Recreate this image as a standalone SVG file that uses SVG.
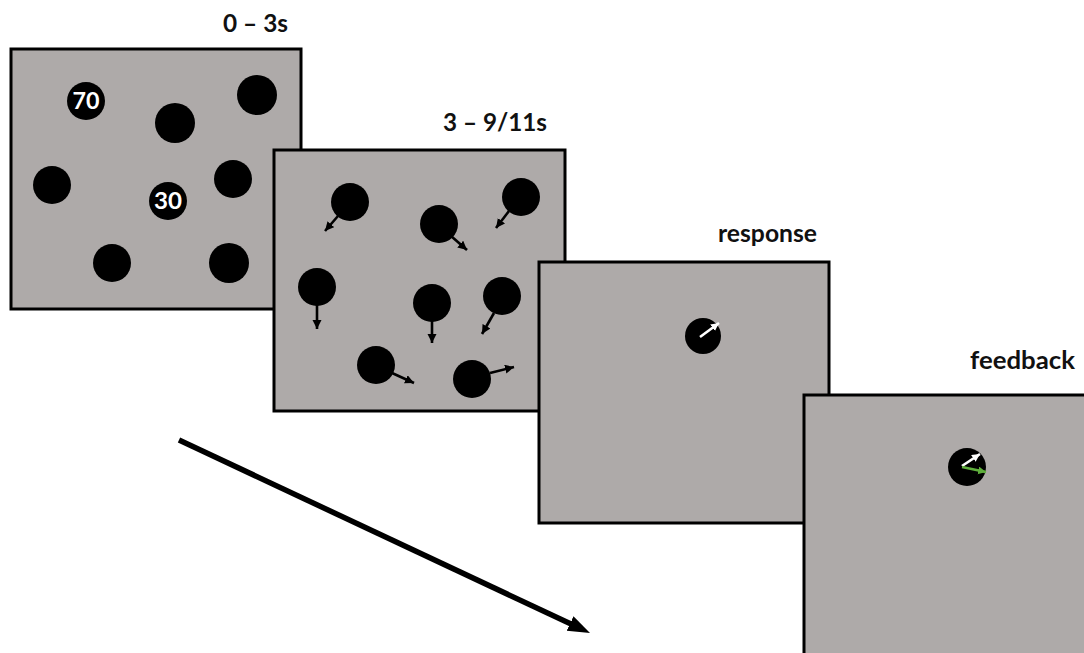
<svg xmlns="http://www.w3.org/2000/svg" width="1084" height="653" viewBox="0 0 1084 653">
<style>
.panel{fill:#aeaaa9;stroke:#000;stroke-width:3}
.dot{fill:#000}
.lbl{font-family:Lato,"Liberation Sans",Arial,sans-serif;font-weight:bold;font-size:24px;fill:#111}
.num{font-family:Lato,"Liberation Sans",Arial,sans-serif;font-weight:bold;font-size:23px;fill:#fff;text-anchor:middle}
.mv{stroke:#000;stroke-width:2.6;fill:none}
</style>
<defs>
<marker id="ah" markerUnits="userSpaceOnUse" markerWidth="11" markerHeight="10" refX="9" refY="4.5" orient="auto"><path d="M0,0 L9,4.5 L0,9 z" fill="#000"/></marker>
<marker id="ahw" markerUnits="userSpaceOnUse" markerWidth="9" markerHeight="9" refX="8" refY="4" orient="auto"><path d="M0,0 L8,4 L0,8 z" fill="#fff"/></marker>
<marker id="ahg" markerUnits="userSpaceOnUse" markerWidth="9" markerHeight="9" refX="8" refY="4" orient="auto"><path d="M0,0 L8,4 L0,8 z" fill="#5fae3c"/></marker>
<marker id="big" markerUnits="userSpaceOnUse" markerWidth="24" markerHeight="18" refX="4" refY="8" orient="auto"><path d="M0,0 L22,8 L0,16 z" fill="#000"/></marker>
</defs>

<g id="panel1">
<rect class="panel" x="11" y="49" width="290" height="260"/>
<circle class="dot" cx="86" cy="101" r="19"/>
<text class="num" x="86" y="109" textLength="27" lengthAdjust="spacingAndGlyphs">70</text>
<circle class="dot" cx="175" cy="123" r="20"/>
<circle class="dot" cx="257" cy="95" r="20"/>
<circle class="dot" cx="52" cy="185" r="19"/>
<circle class="dot" cx="233" cy="179" r="19"/>
<circle class="dot" cx="168" cy="201" r="19"/>
<text class="num" x="168" y="209" textLength="28" lengthAdjust="spacingAndGlyphs">30</text>
<circle class="dot" cx="112" cy="263" r="19"/>
<circle class="dot" cx="229" cy="263" r="20"/>
<text class="lbl" x="223" y="32" textLength="65" lengthAdjust="spacingAndGlyphs">0 – 3s</text>
</g>

<g id="panel2">
<rect class="panel" x="274" y="150" width="291" height="261"/>
<circle class="dot" cx="350" cy="202" r="19"/>
<circle class="dot" cx="439" cy="224" r="19"/>
<circle class="dot" cx="521" cy="197" r="19"/>
<circle class="dot" cx="317" cy="287" r="19"/>
<circle class="dot" cx="432" cy="303" r="19"/>
<circle class="dot" cx="502" cy="296" r="19"/>
<circle class="dot" cx="376" cy="365" r="19"/>
<circle class="dot" cx="472" cy="379" r="19"/>
<line class="mv" x1="338" y1="216" x2="325" y2="231" marker-end="url(#ah)"/>
<line class="mv" x1="451" y1="236" x2="467" y2="250" marker-end="url(#ah)"/>
<line class="mv" x1="509" y1="211" x2="496" y2="228" marker-end="url(#ah)"/>
<line class="mv" x1="317" y1="305" x2="317" y2="329" marker-end="url(#ah)"/>
<line class="mv" x1="432" y1="321" x2="432" y2="343" marker-end="url(#ah)"/>
<line class="mv" x1="494" y1="313" x2="482" y2="334" marker-end="url(#ah)"/>
<line class="mv" x1="392" y1="373" x2="414" y2="383" marker-end="url(#ah)"/>
<line class="mv" x1="490" y1="373" x2="514" y2="367" marker-end="url(#ah)"/>
<text class="lbl" x="443" y="131" textLength="104" lengthAdjust="spacingAndGlyphs">3 – 9/11s</text>
</g>

<g id="panel3">
<rect class="panel" x="539" y="262" width="290" height="261"/>
<circle class="dot" cx="703" cy="336" r="18"/>
<line x1="700" y1="337" x2="719" y2="323" stroke="#fff" stroke-width="2.6" marker-end="url(#ahw)"/>
<text class="lbl" x="718" y="242" textLength="99" lengthAdjust="spacingAndGlyphs">response</text>
</g>

<g id="panel4">
<rect class="panel" x="804" y="395" width="292" height="270"/>
<circle class="dot" cx="967" cy="467" r="19"/>
<line x1="962" y1="466" x2="980" y2="454" stroke="#fff" stroke-width="2.6" marker-end="url(#ahw)"/>
<line x1="962" y1="467" x2="986" y2="472" stroke="#5fae3c" stroke-width="2.6" marker-end="url(#ahg)"/>
<text class="lbl" x="970" y="369" textLength="105" lengthAdjust="spacingAndGlyphs">feedback</text>
</g>

<g id="connectors">
<line x1="179" y1="440" x2="573.7" y2="625.3" stroke="#000" stroke-width="5.5" marker-end="url(#big)"/>
</g>
</svg>
